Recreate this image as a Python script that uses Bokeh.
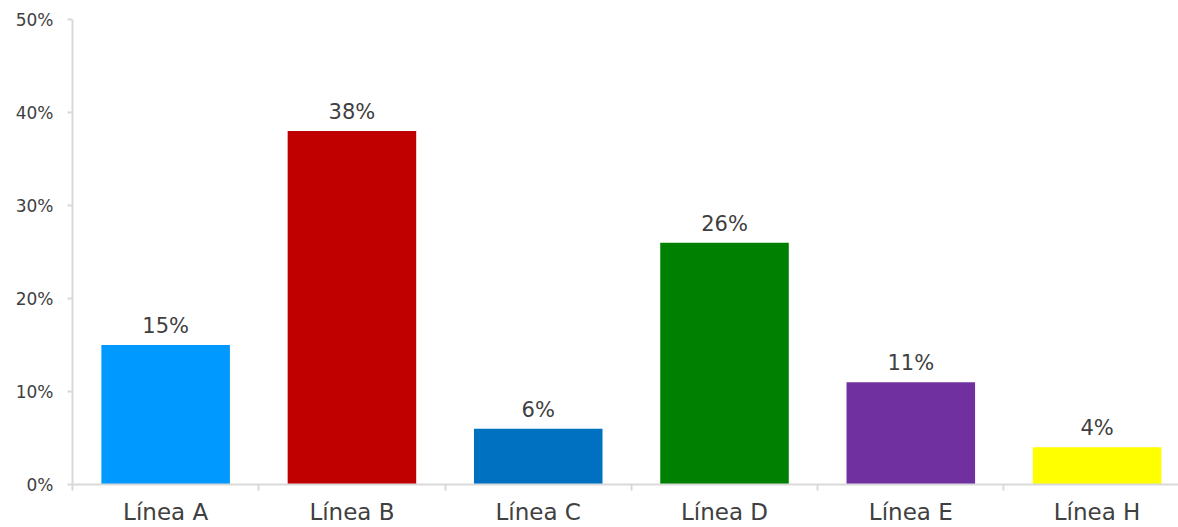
from bokeh.plotting import figure
from bokeh.models import Range1d, FixedTicker, NumeralTickFormatter, ColumnDataSource
from bokeh.core.properties import value
from bokeh.embed import file_html
from bokeh.resources import INLINE

categories = ["Línea A", "Línea B", "Línea C", "Línea D", "Línea E", "Línea H"]
values = [0.15, 0.38, 0.06, 0.26, 0.11, 0.04]
colors = ["#0099FF", "#C00000", "#0070C0", "#008000", "#7030A0", "#FFFF00"]
value_labels = ["15%", "38%", "6%", "26%", "11%", "4%"]
y_ticks = [0, 0.1, 0.2, 0.3, 0.4, 0.5]

FONT = "DejaVu Sans"
TXT = "#404040"
AX = "#D9D9D9"

xs = [i + 0.5 for i in range(len(categories))]
src = ColumnDataSource(dict(x=xs, top=values, color=colors, lab=value_labels))

p = figure(width=1178, height=527, output_backend="svg", toolbar_location=None,
           x_range=Range1d(0, 5.937), y_range=Range1d(0, 0.5),
           min_border_left=72, min_border_right=0, min_border_top=19, min_border_bottom=41)
p.outline_line_color = None
p.xgrid.visible = False
p.ygrid.visible = False
p.background_fill_color = "white"
p.border_fill_color = "white"

p.vbar(x="x", top="top", width=0.69, bottom=0, color="color", line_color=None, source=src)
p.text(x="x", y="top", text="lab", source=src, text_align="center", text_baseline="alphabetic",
       y_offset=-19, text_font=value(FONT), text_font_size="21px", text_color=TXT)

xa = p.xaxis[0]
xa.ticker = FixedTicker(ticks=xs, minor_ticks=list(range(len(categories) + 1)))
xa.major_label_overrides = {x: c for x, c in zip(xs, categories)}
xa.major_tick_line_color = None
xa.major_tick_out = 0
xa.major_tick_in = 0
xa.minor_tick_line_color = AX
xa.minor_tick_line_width = 2
xa.minor_tick_out = 6
xa.minor_tick_in = 0
xa.axis_line_color = AX
xa.axis_line_width = 2
xa.major_label_text_font = FONT
xa.major_label_text_font_size = "23px"
xa.major_label_text_color = TXT
xa.major_label_standoff = 8

ya = p.yaxis[0]
ya.ticker = FixedTicker(ticks=y_ticks, minor_ticks=[])
ya.formatter = NumeralTickFormatter(format="0%")
ya.axis_line_color = AX
ya.axis_line_width = 2
ya.major_tick_line_color = AX
ya.major_tick_line_width = 2
ya.major_tick_out = 5
ya.major_tick_in = 0
ya.minor_tick_line_color = None
ya.major_label_text_font = FONT
ya.major_label_text_font_size = "17px"
ya.major_label_text_color = TXT
ya.major_label_standoff = 14

open("out.html", "w").write(file_html(p, INLINE))
